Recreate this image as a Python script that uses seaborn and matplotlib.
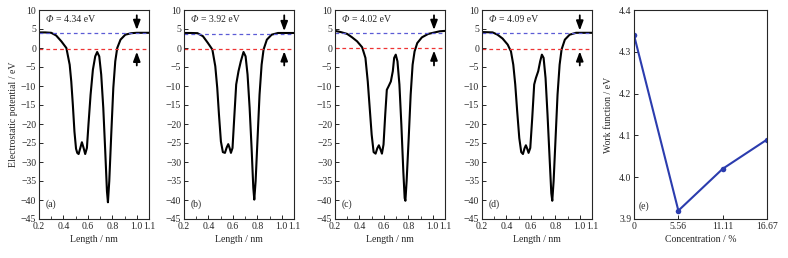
import numpy as np
import pandas as pd
import seaborn as sns
import matplotlib.pyplot as plt
from matplotlib.ticker import MultipleLocator

# Electrostatic potential profiles (Length / nm, potential / eV)
len_a = [0.2, 0.25, 0.3, 0.34, 0.383, 0.424, 0.451, 0.464, 0.477, 0.49, 0.503, 0.513, 0.524,
         0.538, 0.551, 0.565, 0.578, 0.592, 0.605, 0.622, 0.641, 0.66, 0.676, 0.693, 0.709,
         0.726, 0.742, 0.756, 0.764, 0.775, 0.791, 0.808, 0.824, 0.84, 0.867, 0.906, 0.955, 1.0, 1.1]
pot_a = [4.1, 4.1, 4.0, 3.3, 1.75, 0.0, -4.4, -8.8, -15.0, -22.0, -26.5, -27.6, -27.9,
         -26.3, -24.8, -26.3, -27.9, -26.3, -20.0, -12.3, -5.7, -2.2, -1.05, -2.2, -7.0,
         -15.8, -27.2, -37.7, -40.6, -35.0, -22.8, -10.5, -3.5, 0.0, 2.2, 3.5, 3.9, 4.0, 4.0]

len_b = [0.2, 0.26, 0.31, 0.355, 0.396, 0.432, 0.456, 0.472, 0.486, 0.502, 0.518, 0.535,
         0.549, 0.562, 0.573, 0.584, 0.597, 0.611, 0.627, 0.646, 0.665, 0.687, 0.704, 0.72,
         0.737, 0.753, 0.767, 0.775, 0.786, 0.802, 0.818, 0.835, 0.851, 0.878, 0.917, 0.969, 1.1]
pot_b = [3.95, 3.95, 3.9, 3.1, 1.3, -0.4, -4.8, -10.5, -17.5, -24.6, -27.4, -27.6,
         -26.2, -25.3, -26.3, -27.6, -26.3, -18.4, -9.6, -6.1, -3.5, -1.05, -2.2, -7.0,
         -15.8, -26.3, -36.8, -39.9, -35.0, -23.7, -12.3, -4.4, -0.4, 2.2, 3.5, 3.95, 3.95]

len_c = [0.2, 0.246, 0.3, 0.34, 0.381, 0.422, 0.449, 0.468, 0.484, 0.5, 0.516, 0.532, 0.546,
         0.559, 0.571, 0.584, 0.597, 0.611, 0.624, 0.638, 0.657, 0.673, 0.684, 0.697, 0.711,
         0.727, 0.743, 0.759, 0.77, 0.776, 0.786, 0.803, 0.819, 0.835, 0.851, 0.873, 0.911,
         0.962, 1.016, 1.057, 1.1]
pot_c = [4.5, 4.2, 3.7, 2.8, 1.75, 0.2, -2.6, -8.8, -15.8, -22.8, -27.4, -27.8, -26.4,
         -25.6, -26.6, -27.8, -25.4, -17.5, -11.0, -10.1, -8.8, -6.1, -2.6, -1.75, -3.5,
         -9.6, -20.2, -32.5, -39.5, -40.2, -35.0, -23.7, -12.3, -4.4, -0.9, 1.3, 2.8,
         3.7, 4.1, 4.4, 4.5]

len_d = [0.2, 0.287, 0.327, 0.368, 0.41, 0.437, 0.456, 0.472, 0.488, 0.505, 0.521, 0.535,
         0.548, 0.559, 0.57, 0.581, 0.595, 0.611, 0.627, 0.641, 0.66, 0.676, 0.69, 0.704,
         0.72, 0.736, 0.753, 0.767, 0.775, 0.786, 0.802, 0.818, 0.835, 0.851, 0.878, 0.917,
         0.969, 1.1]
pot_d = [4.2, 4.1, 3.5, 2.5, 0.9, -0.9, -4.4, -9.6, -16.7, -23.7, -27.4, -27.9,
         -26.4, -25.6, -26.5, -27.6, -26.3, -18.4, -9.6, -7.9, -6.1, -3.5, -1.75, -2.6,
         -7.9, -17.5, -28.9, -38.2, -40.2, -35.0, -23.7, -12.3, -4.4, -0.4, 2.2, 3.5,
         4.0, 4.0]

panel_tags = ["(a)", "(b)", "(c)", "(d)"]
work_funcs = [4.34, 3.92, 4.02, 4.09]
vacuum_levels = [4.05, 3.75, 4.05, 3.9]
fermi_levels = [-0.29, -0.17, 0.03, -0.19]
arrow_x = [1.0, 1.02, 1.01, 1.0]

# Work function vs. concentration
concentration = [0, 5.56, 11.11, 16.67]
work_function = [4.34, 3.92, 4.02, 4.09]

sns.set_style("ticks")
plt.rcParams['font.family'] = ['Liberation Serif', 'DejaVu Serif']
plt.rcParams['font.size'] = 7
plt.rcParams['axes.linewidth'] = 0.8

fig = plt.figure(figsize=(7.88, 2.58), dpi=100)
lefts = [39 / 788, 184 / 788, 335 / 788, 482 / 788]
bottom = 1 - 219 / 258
height = 209 / 258
width = 110 / 788

arrow_style = dict(arrowstyle='-|>,head_length=0.8,head_width=0.3',
                   color='black', lw=1.3, mutation_scale=7, shrinkA=0, shrinkB=0)

curves = [(len_a, pot_a), (len_b, pot_b), (len_c, pot_c), (len_d, pot_d)]
for i, (xs, ys) in enumerate(curves):
    ax = fig.add_axes([lefts[i], bottom, width, height])
    df = pd.DataFrame({'Length': xs, 'Potential': ys})
    sns.lineplot(data=df, x='Length', y='Potential', sort=False, estimator=None,
                 color='black', lw=1.5, ax=ax)
    ax.axhline(vacuum_levels[i], color='#5b5bd6', ls=(0, (3, 2.5)), lw=0.9)
    ax.axhline(fermi_levels[i], color='#ee3333', ls=(0, (3, 2.5)), lw=0.9)
    ax.annotate('', xy=(arrow_x[i], vacuum_levels[i] + 0.7), xytext=(arrow_x[i], 8.6),
                arrowprops=arrow_style)
    ax.annotate('', xy=(arrow_x[i], fermi_levels[i] - 0.7), xytext=(arrow_x[i], -4.6),
                arrowprops=arrow_style)
    ax.text(0.255, 7.4, '\u03a6', fontsize=7, style='italic', va='center')
    ax.annotate(f'= {work_funcs[i]:.2f} eV', xy=(0.255, 7.4), xytext=(7.5, 0),
                textcoords='offset points', fontsize=7, va='center')
    ax.text(0.258, -41.0, panel_tags[i], fontsize=7, va='center')
    ax.set_xlim(0.2, 1.1)
    ax.set_ylim(-45, 10)
    ax.set_xticks([0.2, 0.4, 0.6, 0.8, 1.0, 1.1])
    ax.set_xticklabels(['0.2', '0.4', '0.6', '0.8', '1.0', '1.1'])
    ax.xaxis.set_minor_locator(MultipleLocator(0.1))
    ax.set_yticks(np.arange(-45, 11, 5))
    ax.set_yticklabels([f'{v}'.replace('-', '\u2212') for v in range(-45, 11, 5)])
    ax.tick_params(direction='in', length=3, width=0.7, labelsize=7, pad=2)
    ax.tick_params(which='minor', direction='in', length=2, width=0.6)
    ax.set_xlabel('Length / nm', fontsize=7, labelpad=3)
    if i == 0:
        ax.set_ylabel('Electrostatic potential / eV', fontsize=7, labelpad=2)
    else:
        ax.set_ylabel('')

ax_e = fig.add_axes([634 / 788, bottom, 133 / 788, height])
sns.lineplot(x=concentration, y=work_function, color='#2b3cae', lw=1.5, marker='o',
             markersize=4, markeredgewidth=0, ax=ax_e)
ax_e.set_xlim(0, 16.67)
ax_e.set_ylim(3.9, 4.4)
ax_e.set_xticks(concentration)
ax_e.set_xticklabels(['0', '5.56', '11.11', '16.67'])
ax_e.set_yticks([3.9, 4.0, 4.1, 4.2, 4.3, 4.4])
ax_e.set_yticklabels(['3.9', '4.0', '4.1', '4.2', '4.3', '4.4'])
ax_e.tick_params(direction='in', length=3, width=0.7, labelsize=7, pad=2)
ax_e.text(0.55, 3.93, '(e)', fontsize=7, va='center')
ax_e.set_xlabel('Concentration / %', fontsize=7, labelpad=3)
ax_e.set_ylabel('Work function / eV', fontsize=7, labelpad=4)

fig.savefig('out.png', dpi=100)
